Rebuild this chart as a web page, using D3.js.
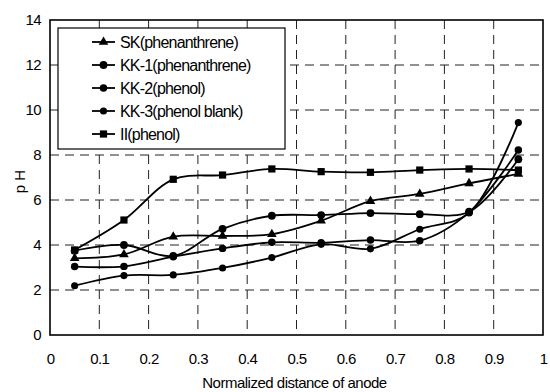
<!DOCTYPE html>
<html>
<head>
<meta charset="utf-8">
<script src="https://cdn.jsdelivr.net/npm/d3@7"></script>
<style>
  body { margin: 0; background: #fff; }
  #chart-container { width: 550px; height: 392px; }
  text { font-family: "Liberation Sans", Arial, sans-serif; fill: #000; }
</style>
</head>
<body>
<div id="chart-container"></div>
<script>
// data
const distance = [0.05, 0.15, 0.25, 0.35, 0.45, 0.55, 0.65, 0.75, 0.85, 0.95];
const seriesNames = ["SK(phenanthrene)", "KK-1(phenanthrene)", "KK-2(phenol)", "KK-3(phenol blank)", "II(phenol)"];
const skValues  = [3.41, 3.58, 4.37, 4.40, 4.48, 5.08, 5.95, 6.27, 6.74, 7.16];
const kk1Values = [3.75, 4.00, 3.52, 4.72, 5.30, 5.33, 5.42, 5.37, 5.48, 7.81];
const kk2Values = [3.04, 3.05, 3.48, 3.85, 4.12, 4.10, 4.22, 4.19, 5.45, 8.22];
const kk3Values = [2.19, 2.64, 2.67, 2.98, 3.44, 4.03, 3.83, 4.70, 5.42, 9.44];
const iiValues  = [3.78, 5.11, 6.92, 7.11, 7.38, 7.26, 7.23, 7.33, 7.38, 7.33];
const xTicks = [0, 0.1, 0.2, 0.3, 0.4, 0.5, 0.6, 0.7, 0.8, 0.9, 1];
const yTicks = [0, 2, 4, 6, 8, 10, 12, 14];

const allValues = [skValues, kk1Values, kk2Values, kk3Values, iiValues];
const symbols = [d3.symbolTriangle, d3.symbolCircle, d3.symbolCircle, d3.symbolCircle, d3.symbolSquare];
const symbolSizes = [40, 48, 44, 40, 52];

function createChart() {
    const margin = { top: 20, right: 7, bottom: 57, left: 50 };
    const width = 550 - margin.left - margin.right;
    const height = 392 - margin.top - margin.bottom;

    const svg = d3.select("#chart-container")
        .append("svg")
        .attr("width", 550)
        .attr("height", 392)
        .append("g")
        .attr("transform", `translate(${margin.left},${margin.top})`);

    const x = d3.scaleLinear().domain([0, 1]).range([0, width]);
    const y = d3.scaleLinear().domain([0, 14]).range([height, 0]);

    // dashed grid
    svg.append("g")
        .selectAll("line")
        .data(yTicks.slice(1, -1))
        .enter().append("line")
        .attr("x1", 0).attr("x2", width)
        .attr("y1", d => y(d)).attr("y2", d => y(d))
        .attr("stroke", "#222").attr("stroke-width", 1)
        .attr("stroke-dasharray", "9,6");

    svg.append("g")
        .selectAll("line")
        .data(xTicks.slice(1, -1))
        .enter().append("line")
        .attr("x1", d => x(d)).attr("x2", d => x(d))
        .attr("y1", 0).attr("y2", height)
        .attr("stroke", "#222").attr("stroke-width", 1)
        .attr("stroke-dasharray", "9,6");

    // axes (labels only, frame drawn below)
    const xAxis = svg.append("g")
        .attr("transform", `translate(0,${height})`)
        .call(d3.axisBottom(x).tickValues(xTicks).tickSize(0).tickPadding(18).tickFormat(d => d));
    xAxis.select(".domain").remove();
    xAxis.selectAll("text").style("font-size", "15px").style("letter-spacing", "-0.6px");

    const yAxis = svg.append("g")
        .call(d3.axisLeft(y).tickValues(yTicks).tickSize(0).tickPadding(9));
    yAxis.select(".domain").remove();
    yAxis.selectAll("text").style("font-size", "15px").style("letter-spacing", "-0.6px");

    svg.append("rect")
        .attr("width", width)
        .attr("height", height)
        .attr("fill", "none")
        .attr("stroke", "#000")
        .attr("stroke-width", 1.6);

    // axis titles
    svg.append("text")
        .attr("x", width / 2 - 2)
        .attr("y", height + 53)
        .attr("text-anchor", "middle")
        .style("font-size", "15px")
        .style("letter-spacing", "-0.5px")
        .text("Normalized distance of anode");

    svg.append("text")
        .attr("transform", `translate(-25,${height / 2 + 4}) rotate(-90)`)
        .attr("text-anchor", "middle")
        .style("font-size", "15px")
        .text("p H");

    // series lines
    const line = d3.line()
        .x((d, i) => x(distance[i]))
        .y(d => y(d))
        .curve(d3.curveCatmullRom.alpha(0.5));

    allValues.forEach((values, index) => {
        svg.append("path")
            .datum(values)
            .attr("fill", "none")
            .attr("stroke", "#000")
            .attr("stroke-width", 1.8)
            .attr("d", line);

        svg.append("g")
            .selectAll("path")
            .data(values)
            .enter().append("path")
            .attr("transform", (d, i) => `translate(${x(distance[i])},${y(d)})`)
            .attr("d", d3.symbol().type(symbols[index]).size(symbolSizes[index]))
            .attr("fill", "#000");
    });

    // legend
    const legend = svg.append("g")
        .attr("transform", "translate(8,8)");

    legend.append("rect")
        .attr("width", 227)
        .attr("height", 121)
        .attr("fill", "#fff")
        .attr("stroke", "#000")
        .attr("stroke-width", 1.2);

    const items = legend.selectAll(".item")
        .data(seriesNames)
        .enter().append("g")
        .attr("class", "item")
        .attr("transform", (d, i) => `translate(0,${14 + i * 23})`);

    items.append("line")
        .attr("x1", 34).attr("x2", 57)
        .attr("stroke", "#000").attr("stroke-width", 1.8);

    items.append("path")
        .attr("transform", "translate(45.5,0)")
        .attr("d", (d, i) => d3.symbol().type(symbols[i]).size(symbolSizes[i])())
        .attr("fill", "#000");

    items.append("text")
        .attr("x", 62)
        .attr("dy", "0.36em")
        .style("font-size", "16px")
        .style("letter-spacing", "-0.8px")
        .text(d => d);
}

createChart();
</script>
</body>
</html>
